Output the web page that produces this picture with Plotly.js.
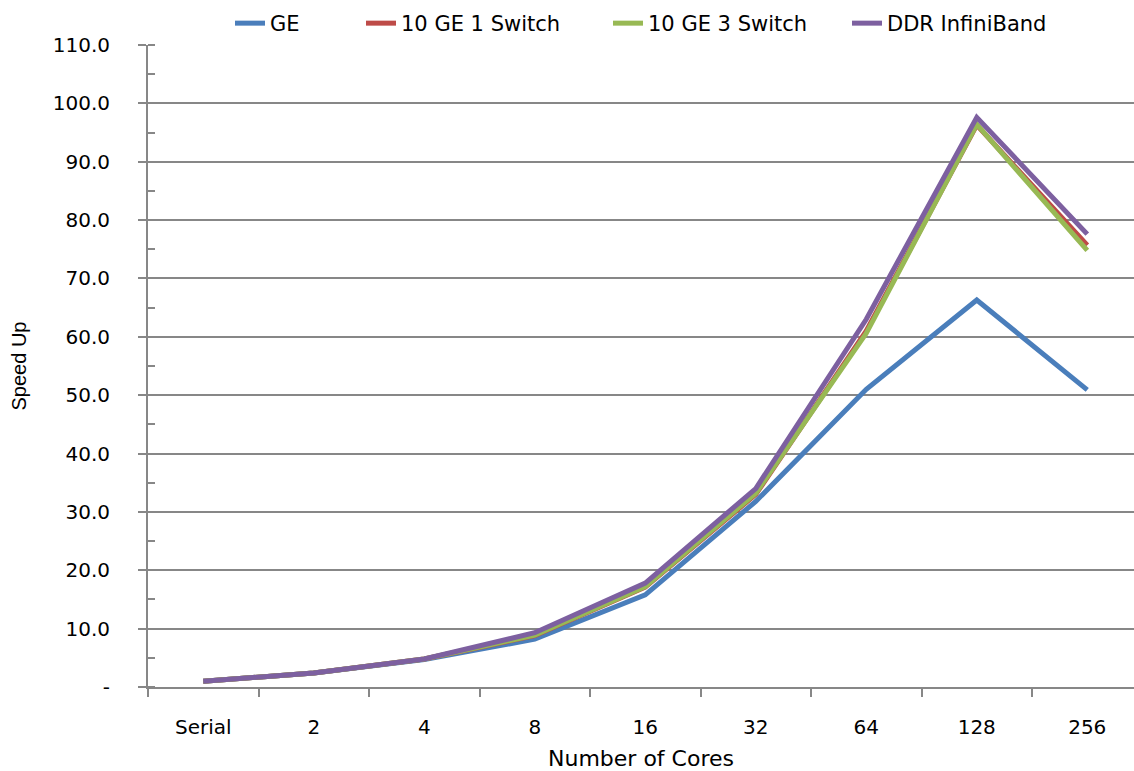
<!DOCTYPE html>
<html>
<head>
<meta charset="utf-8">
<script src="https://cdn.plot.ly/plotly-3.0.1.min.js"></script>
<style>html,body{margin:0;padding:0;background:#fff;overflow:hidden}#chart{width:1134px;height:771px}</style>
</head>
<body>
<div id="chart"></div>
<script>
const categories = ["Serial", "2", "4", "8", "16", "32", "64", "128", "256"];
const geValues = [1.0, 2.4, 4.7, 8.2, 15.8, 31.8, 51.0, 66.3, 50.9];
const ge10oneSwitch = [1.0, 2.4, 4.8, 8.8, 17.1, 33.0, 61.0, 96.3, 75.7];
const ge10threeSwitch = [1.0, 2.4, 4.8, 8.9, 17.2, 33.2, 60.6, 96.4, 74.8];
const ddrInfiniBand = [1.0, 2.4, 4.8, 9.3, 17.8, 34.0, 63.0, 97.6, 77.6];
const seriesNames = ["GE", "10 GE 1 Switch", "10 GE 3 Switch", "DDR InfiniBand"];
const yTickVals = [0, 10, 20, 30, 40, 50, 60, 70, 80, 90, 100, 110];
const yTickText = ["-", "10.0", "20.0", "30.0", "40.0", "50.0", "60.0", "70.0", "80.0", "90.0", "100.0", "110.0"];

const colors = ["#4a7ebb", "#be4b48", "#98b954", "#7d60a0"];
const legendIds = ["legend", "legend2", "legend3", "legend4"];
const legendX = [230, 361, 608, 847];
const allSeries = [geValues, ge10oneSwitch, ge10threeSwitch, ddrInfiniBand];
const traces = allSeries.map((vals, i) => ({
  type: "scatter",
  mode: "lines",
  x: categories,
  y: vals,
  name: seriesNames[i],
  legend: legendIds[i],
  line: {color: colors[i], width: 5}
}));

const fam = "DejaVu Sans, Verdana, sans-serif";
const tickFont = {family: fam, size: 20, color: "#000"};
const xTitleFont = {family: fam, size: 22, color: "#000"};
const yTitleFont = {family: "Liberation Sans, Arial, sans-serif", size: 20, color: "#000"};
const legFont = {family: fam, size: 21, color: "#000"};

const layout = {
  width: 1134, height: 771,
  margin: {l: 148, r: 0, t: 45, b: 84},
  paper_bgcolor: "#fff", plot_bgcolor: "#fff",
  font: tickFont,
  showlegend: true,
  xaxis: {
    type: "category",
    range: [-0.5, 8.423],
    showgrid: false,
    showline: true, linecolor: "#878787", linewidth: 2,
    ticks: "outside", ticklen: 8, tickwidth: 2, tickcolor: "#878787",
    tickson: "boundaries",
    tickfont: tickFont,
    ticklabelstandoff: 21,
    title: {text: "Number of Cores", font: xTitleFont, standoff: 15},
    zeroline: false
  },
  yaxis: {
    range: [0, 110],
    tickvals: yTickVals, ticktext: yTickText,
    showgrid: true, gridcolor: "#878787", gridwidth: 2,
    showline: true, linecolor: "#878787", linewidth: 2,
    ticks: "outside", ticklen: 8, tickwidth: 2, tickcolor: "#878787",
    tickfont: tickFont,
    ticklabelstandoff: 24,
    minor: {dtick: 5, tick0: 0, ticks: "inside", ticklen: 7, tickwidth: 2, tickcolor: "#878787", showgrid: false},
    title: {text: "Speed Up", font: yTitleFont, standoff: 21},
    zeroline: false
  }
};
legendIds.forEach((id, i) => {
  layout[id] = {
    orientation: "h", xref: "container", yref: "container",
    x: legendX[i] / 1134, xanchor: "left", y: 1 - 3 / 771, yanchor: "top",
    font: legFont, itemwidth: 30, bgcolor: "rgba(0,0,0,0)"
  };
});

Plotly.newPlot("chart", traces, layout, {displayModeBar: false, staticPlot: true});
</script>
</body>
</html>
